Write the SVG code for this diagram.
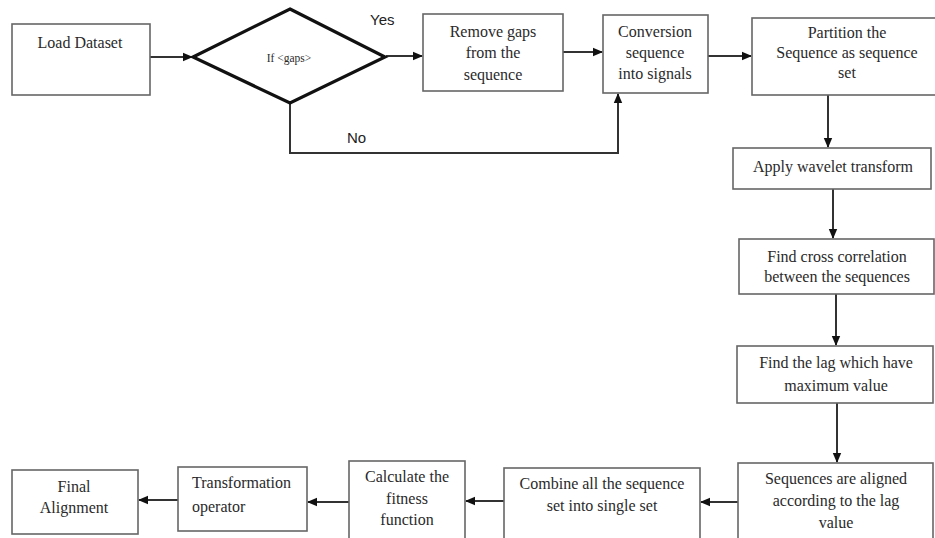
<svg xmlns="http://www.w3.org/2000/svg" width="935" height="538" viewBox="0 0 935 538">
<style>
.box{fill:#fff;stroke:#666;stroke-width:1.6}
.dia{fill:#fff;stroke:#111;stroke-width:3.2}
.t{font-family:"Liberation Serif","Times New Roman",serif;font-size:16px;fill:#2a2a2a;text-anchor:middle}
.tl{font-family:"Liberation Serif","Times New Roman",serif;font-size:16px;fill:#2a2a2a}
.s{font-family:"Liberation Sans",Arial,sans-serif;font-size:15px;fill:#222}
.c{fill:none;stroke:#333;stroke-width:2}
</style>
<defs>
<marker id="ah" markerUnits="userSpaceOnUse" markerWidth="10" markerHeight="10" viewBox="0 0 10 10" refX="9" refY="5" orient="auto">
<path d="M0,0.8 L10,5 L0,9.2 Z" fill="#111"/>
</marker>
</defs>
<rect width="935" height="538" fill="#fff"/>
<g id="connectors">
<line class="c" x1="150" y1="57" x2="192" y2="57" marker-end="url(#ah)"/>
<line class="c" x1="386" y1="56" x2="422" y2="56" marker-end="url(#ah)"/>
<line class="c" x1="563" y1="52" x2="602" y2="52" marker-end="url(#ah)"/>
<line class="c" x1="708" y1="56" x2="751" y2="56" marker-end="url(#ah)"/>
<polyline class="c" points="290,104 290,153 618,153 618,94" marker-end="url(#ah)"/>
<line class="c" x1="828" y1="95" x2="828" y2="147" marker-end="url(#ah)"/>
<line class="c" x1="833" y1="189" x2="833" y2="238" marker-end="url(#ah)"/>
<line class="c" x1="836" y1="294" x2="836" y2="345" marker-end="url(#ah)"/>
<line class="c" x1="837" y1="403" x2="837" y2="462" marker-end="url(#ah)"/>
<line class="c" x1="738" y1="502" x2="701" y2="502" marker-end="url(#ah)"/>
<line class="c" x1="504" y1="501" x2="466" y2="501" marker-end="url(#ah)"/>
<line class="c" x1="349" y1="502" x2="308" y2="502" marker-end="url(#ah)"/>
<line class="c" x1="178" y1="500" x2="139" y2="500" marker-end="url(#ah)"/>
<text class="s" x="370" y="25">Yes</text>
<text class="s" x="347" y="143">No</text>
</g>
<g id="load">
<rect class="box" x="12" y="24" width="138" height="71"/>
<text class="t" x="80" y="48">Load Dataset</text>
</g>
<g id="decision">
<polygon class="dia" points="290,9 385,57 290,103 193,57"/>
<text class="t" x="289" y="62" style="font-size:11.5px">If &lt;gaps&gt;</text>
</g>
<g id="remove">
<rect class="box" x="423" y="14" width="140" height="77"/>
<text class="t" x="493" y="37">Remove gaps</text>
<text class="t" x="493" y="58">from the</text>
<text class="t" x="493" y="80">sequence</text>
</g>
<g id="conversion">
<rect class="box" x="603" y="15" width="105" height="78"/>
<text class="t" x="655" y="37">Conversion</text>
<text class="t" x="655" y="58">sequence</text>
<text class="t" x="655" y="79">into signals</text>
</g>
<g id="partition">
<rect class="box" x="752" y="18" width="190" height="77"/>
<text class="t" x="847" y="38">Partition the</text>
<text class="t" x="847" y="58">Sequence as sequence</text>
<text class="t" x="847" y="78">set</text>
</g>
<g id="wavelet">
<rect class="box" x="733" y="148" width="198" height="41"/>
<text class="t" x="833" y="172">Apply wavelet transform</text>
</g>
<g id="crosscorr">
<rect class="box" x="739" y="239" width="195" height="55"/>
<text class="t" x="837" y="262">Find cross correlation</text>
<text class="t" x="837" y="282">between the sequences</text>
</g>
<g id="lag">
<rect class="box" x="737" y="346" width="196" height="57"/>
<text class="t" x="836" y="368">Find the lag which have</text>
<text class="t" x="836" y="391">maximum value</text>
</g>
<g id="aligned">
<rect class="box" x="738" y="463" width="195" height="80"/>
<text class="t" x="836" y="484">Sequences are aligned</text>
<text class="t" x="836" y="506">according to the lag</text>
<text class="t" x="836" y="528">value</text>
</g>
<g id="combine">
<rect class="box" x="504" y="468" width="196" height="75"/>
<text class="t" x="602" y="489">Combine all the sequence</text>
<text class="t" x="602" y="511">set into single set</text>
</g>
<g id="fitness">
<rect class="box" x="349" y="461" width="116" height="82"/>
<text class="t" x="407" y="482">Calculate the</text>
<text class="t" x="407" y="504">fitness</text>
<text class="t" x="407" y="525">function</text>
</g>
<g id="transformation">
<rect class="box" x="178" y="467" width="129" height="64"/>
<text class="tl" x="192" y="488">Transformation</text>
<text class="tl" x="192" y="512">operator</text>
</g>
<g id="final">
<rect class="box" x="12" y="470" width="126" height="64"/>
<text class="t" x="74" y="492">Final</text>
<text class="t" x="74" y="513">Alignment</text>
</g>
</svg>
